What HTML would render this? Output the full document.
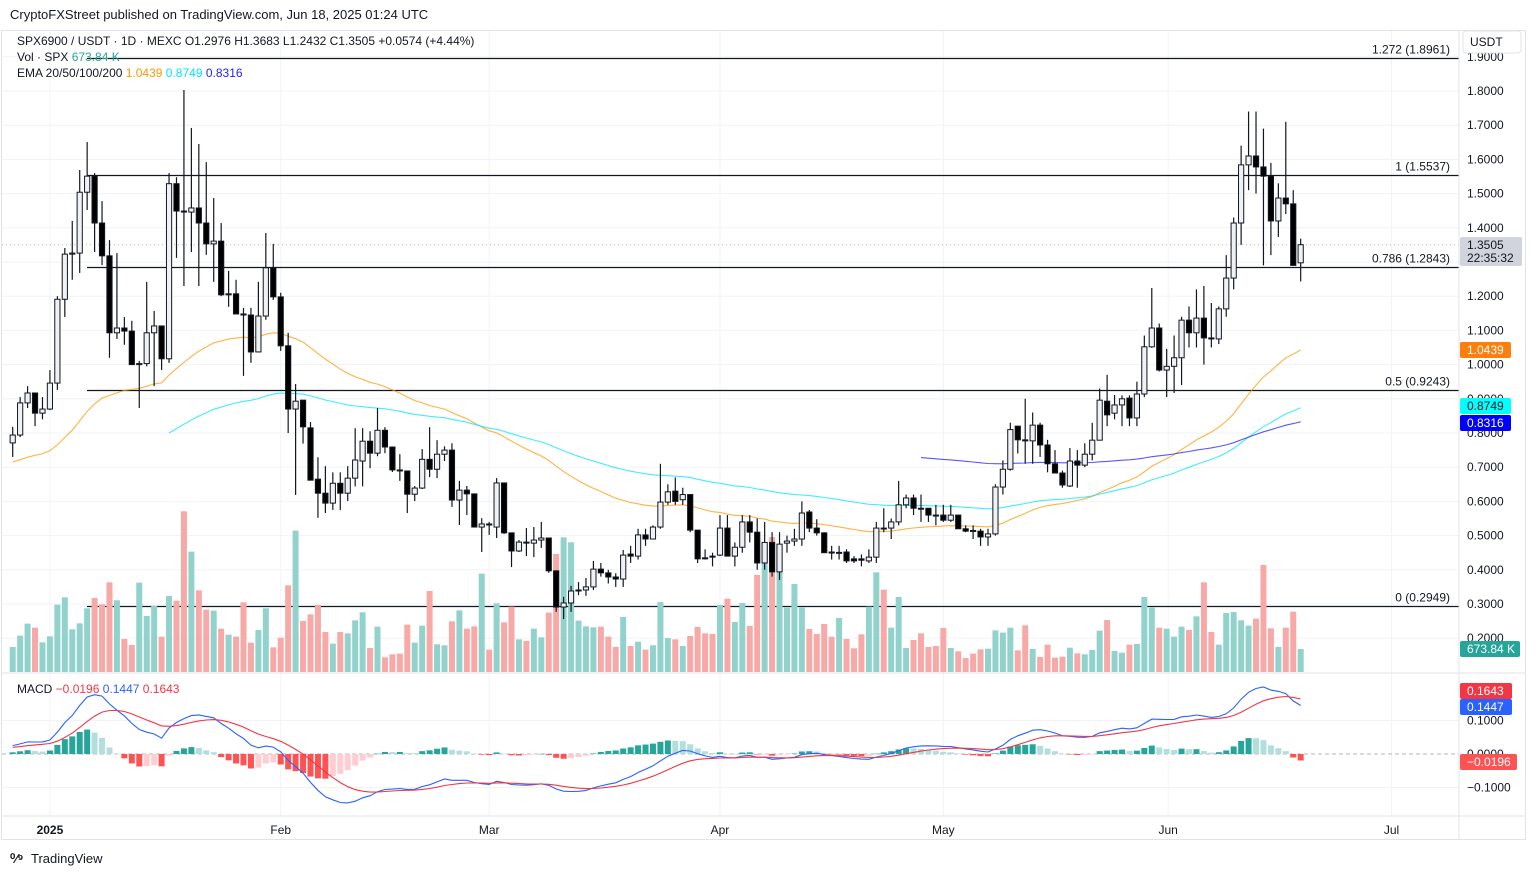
<!DOCTYPE html>
<html><head><meta charset="utf-8"><style>
html,body{margin:0;padding:0;background:#fff;}
svg{display:block;font-family:"Liberation Sans",Arial,sans-serif;}
</style></head><body>
<svg id="chart" width="1536" height="875" viewBox="0 0 1536 875" xmlns="http://www.w3.org/2000/svg">
<rect x="0" y="0" width="1536" height="875" fill="#ffffff"/>
<text x="10" y="19" font-size="13" fill="#131722">CryptoFXStreet published on TradingView.com, Jun 18, 2025 01:24 UTC</text>
<rect x="1.5" y="30.5" width="1524" height="809" fill="none" stroke="#e0e3eb"/>
<g id="grid"></g>
<g id="fib"></g>
<g id="vol"></g>
<g id="ema"></g>
<g id="candles"></g>
<g id="macd"></g>
<g id="axes"></g>
<g font-size="12" fill="#131722">
<text x="17" y="45">SPX6900 / USDT · 1D · MEXC  <tspan>O1.2976  H1.3683  L1.2432  C1.3505  +0.0574 (+4.44%)</tspan></text>
<text x="17" y="61">Vol · SPX  <tspan fill="#26a69a">673.84 K</tspan></text>
<text x="17" y="77">EMA 20/50/100/200  <tspan fill="#ff9800">1.0439</tspan>  <tspan fill="#00e5ff">0.8749</tspan>  <tspan fill="#1f1fff">0.8316</tspan></text>
<text x="17" y="693">MACD  <tspan fill="#f23645">−0.0196</tspan>  <tspan fill="#2962ff">0.1447</tspan>  <tspan fill="#f23645">0.1643</tspan></text>
</g>
<g>
<text x="10" y="863" font-size="13" font-weight="bold" fill="#131722">⁰⁄⁹</text>
<text x="31" y="863" font-size="13" fill="#131722">TradingView</text>
</g>
</svg>
<script>
const opens=[.771,.794,.888,.917,.858,.870,.946,1.191,1.323,1.326,1.504,1.551,1.414,1.318,1.093,1.107,1.098,1.000,1.003,1.093,1.113,1.017,1.529,1.449,1.446,1.458,1.414,1.353,1.361,1.204,1.207,1.148,1.145,1.037,1.142,1.283,1.198,1.055,.870,.896,.815,.665,.624,.595,.653,.624,.668,.718,.776,.741,.808,.759,.692,.689,.621,.639,.723,.694,.738,.750,.604,.633,.622,.525,.534,.525,.654,.508,.455,.481,.478,.487,.493,.397,.291,.303,.338,.341,.350,.402,.391,.379,.373,.446,.44,.502,.49,.525,.598,.63,.605,.62,.516,.435,.44,.443,.522,.44,.466,.54,.51,.42,.48,.394,.478,.484,.49,.569,.522,.508,.452,.449,.452,.432,.432,.426,.437,.522,.522,.54,.59,.61,.58,.58,.56,.56,.545,.56,.52,.515,.513,.496,.505,.642,.694,.82,.78,.777,.823,.765,.71,.683,.645,.718,.706,.738,.779,.893,.858,.882,.902,.844,.914,1.052,1.107,.984,.995,1.02,1.13,1.093,1.136,1.078,1.075,1.163,1.253,1.414,1.584,1.61,1.578,1.551,1.42,1.487,1.47,1.2976];
const highs=[.818,.905,.937,.917,.905,.984,1.200,1.341,1.420,1.569,1.651,1.560,1.478,1.364,1.326,1.139,1.128,1.011,1.242,1.157,1.113,1.560,1.548,1.803,1.692,1.645,1.592,1.487,1.414,1.274,1.248,1.166,1.166,1.242,1.385,1.353,1.210,1.093,.943,.896,.832,.729,.703,.685,.685,.703,.814,.814,.805,.873,.817,.759,.738,.689,.645,.753,.817,.779,.761,.770,.660,.645,.622,.551,.540,.668,.654,.508,.487,.522,.525,.540,.493,.397,.321,.353,.364,.376,.426,.42,.40,.39,.458,.47,.52,.52,.53,.71,.65,.67,.64,.62,.516,.46,.45,.56,.56,.48,.56,.56,.55,.54,.51,.51,.50,.52,.60,.575,.548,.51,.47,.47,.46,.44,.445,.46,.54,.58,.55,.66,.62,.62,.62,.58,.59,.59,.59,.56,.53,.53,.52,.52,.65,.72,.83,.82,.90,.86,.83,.78,.75,.69,.756,.75,.77,.83,.93,.97,.911,.91,.91,.95,1.085,1.224,1.12,1.046,1.085,1.14,1.17,1.22,1.23,1.18,1.17,1.32,1.43,1.64,1.74,1.74,1.69,1.59,1.53,1.71,1.51,1.3683];
const lows=[.730,.788,.873,.820,.840,.867,.926,1.139,1.248,1.268,1.452,1.329,1.291,1.020,1.075,1.058,1.000,.873,.995,.937,.984,1.005,1.312,1.230,1.329,1.230,1.321,1.242,1.200,1.169,1.148,.967,1.005,1.037,1.131,1.189,1.040,.800,.619,.769,.662,.552,.566,.575,.575,.601,.644,.644,.697,.732,.741,.686,.660,.566,.601,.636,.671,.668,.718,.584,.531,.560,.525,.452,.502,.493,.505,.408,.452,.440,.437,.464,.391,.277,.256,.277,.326,.324,.341,.38,.36,.35,.35,.42,.43,.47,.49,.52,.59,.59,.59,.51,.42,.43,.41,.44,.44,.41,.45,.48,.40,.40,.38,.37,.45,.47,.47,.51,.50,.45,.43,.43,.42,.42,.41,.42,.42,.51,.49,.53,.58,.56,.54,.54,.53,.54,.54,.52,.51,.49,.47,.47,.50,.62,.69,.74,.71,.71,.73,.685,.683,.64,.642,.64,.70,.72,.78,.82,.84,.82,.82,.82,.905,1.049,.98,.905,.917,.94,1.05,1.05,1.00,1.05,1.06,1.14,1.22,1.35,1.51,1.50,1.29,1.32,1.373,1.44,1.29,1.2432];
const closes=[.794,.888,.917,.858,.870,.946,1.191,1.323,1.326,1.504,1.551,1.414,1.318,1.093,1.107,1.098,1.000,1.003,1.093,1.113,1.017,1.529,1.449,1.446,1.458,1.414,1.353,1.361,1.204,1.207,1.148,1.145,1.037,1.142,1.283,1.198,1.055,.870,.893,.818,.662,.624,.595,.653,.624,.668,.721,.776,.741,.808,.759,.692,.689,.621,.639,.723,.694,.738,.750,.604,.633,.622,.525,.534,.531,.654,.508,.455,.481,.478,.487,.493,.397,.291,.303,.338,.341,.350,.402,.391,.379,.373,.443,.44,.502,.49,.525,.598,.628,.60,.62,.516,.432,.432,.437,.522,.44,.466,.54,.51,.42,.48,.394,.475,.484,.49,.566,.522,.508,.45,.449,.451,.426,.426,.428,.437,.522,.52,.54,.59,.61,.58,.578,.56,.558,.545,.56,.52,.513,.513,.496,.505,.642,.694,.81,.78,.777,.823,.765,.71,.683,.648,.718,.706,.738,.779,.896,.853,.882,.90,.844,.914,1.052,1.107,.984,.995,1.02,1.13,1.093,1.136,1.078,1.075,1.163,1.253,1.414,1.584,1.61,1.578,1.551,1.42,1.487,1.47,1.29,1.3505];
const volumesK=[733,1065,1417,1299,870,1045,1974,2188,1251,1426,1866,2169,1983,2628,2101,967,791,2618,1641,1934,1036,2228,2091,4709,3527,2394,1827,1798,1270,1094,1036,2042,860,1231,1866,723,1006,2540,4142,1495,1690,1964,1172,830,1172,1133,1514,1749,703,1329,430,518,537,1387,860,1358,2374,811,782,1485,1807,1270,1338,2882,655,2013,1456,1915,957,909,1270,1016,1739,3459,3947,3801,1505,1338,1309,1329,1036,733,1612,762,889,655,782,2052,997,957,762,1055,1319,1133,1114,1964,2149,1465,2022,1348,2843,3720,3955,3400,1886,2579,1886,1260,1114,1407,1036,1583,967,694,1104,1915,2921,2413,1299,2198,703,938,1133,733,762,1290,703,606,410,537,664,684,1221,1153,1299,635,1368,674,440,801,420,449,713,547,518,645,1211,1524,616,567,801,821,2198,1886,1299,1270,1036,1329,1231,1632,2628,1172,801,1729,1759,1514,1358,1563,3136,1280,733,1299,1768,673.84];
const fibRatios=["1.272","1","0.786","0.5","0"];
const fibPrices=[1.8961,1.5537,1.2843,0.9243,0.2949];
const priceTicks=[1.9,1.8,1.7,1.6,1.5,1.4,1.3,1.2,1.1,1.0,0.9,0.8,0.7,0.6,0.5,0.4,0.3,0.2];
const macdTicks=[0.1,0,-0.1];
const monthLabels=["2025","Feb","Mar","Apr","May","Jun","Jul"];
const monthIdx=[5,36,64,95,125,155.2,185.2];
const emaPeriods=[50,100,200];
const emaStarts=[0,21,122];
const emaSeeds=[0.715,0.80,0.728];
const emaColors=["#ff9800","#00e5ff","#1f1fff"];
const macdSeeds=[0.80,0.775,0.02];

const NS="http://www.w3.org/2000/svg";
const svg=document.getElementById('chart');
function mk(tag,attrs,parent){const e=document.createElementNS(NS,tag);for(const k in attrs)e.setAttribute(k,attrs[k]);(parent||svg).appendChild(e);return e;}
const X0=12.7,DX=7.445,PLOT_R=1459;
const xI=i=>X0+i*DX;
const yP=p=>604-(p-0.3)*342;
const yV=v=>672-v/29.3;
const yM=m=>754-m*335;
const G=id=>document.getElementById(id);

// grid
priceTicks.forEach(p=>{const l=mk('line',{x1:2,x2:PLOT_R,y1:yP(p),y2:yP(p),stroke:'#f2f3f7'},G('grid'));

});
macdTicks.forEach(m=>{if(m===0)return;const l=mk('line',{x1:2,x2:PLOT_R,y1:yM(m),y2:yM(m),stroke:'#f2f3f7'},G('grid'));

});
monthIdx.forEach(mi=>{const l=mk('line',{x1:xI(mi),x2:xI(mi),y1:31,y2:816,stroke:'#f2f3f7'},G('grid'));

});

// volume
volumesK.forEach((v,i)=>{const up=closes[i]>=opens[i];const r=mk('rect',{x:xI(i)-3,y:yV(v),width:6,height:672-yV(v),fill:up?'#92d2cc':'#f7a9a7'},G('vol'));

});

// fib
fibPrices.forEach((p,k)=>{const y=Math.round(yP(p))+0.5;
const l=mk('line',{x1:87,x2:PLOT_R,y1:y,y2:y,stroke:'#131722','stroke-width':1.2},G('fib'));


const t=mk('text',{x:1450,y:y-5,'text-anchor':'end','font-size':12,fill:'#131722'},G('fib'));
t.textContent=fibRatios[k]+' ('+p.toFixed(4)+')';

});

// EMA
function ema(period,start,seed){const a=2/(period+1);const out=[];let v=seed;for(let i=start;i<closes.length;i++){if(i>start)v=a*closes[i]+(1-a)*v;out.push([i,v]);}return out;}
emaPeriods.forEach((per,k)=>{const pts=ema(per,emaStarts[k],emaSeeds[k]);
const pl=mk('polyline',{points:pts.map(([i,v])=>xI(i).toFixed(1)+','+yP(v).toFixed(1)).join(' '),fill:'none',stroke:emaColors[k],'stroke-width':1.1,opacity:0.75},G('ema'));

});

// current price dotted line
const cp=mk('line',{x1:2,x2:PLOT_R,y1:yP(closes[closes.length-1]),y2:yP(closes[closes.length-1]),stroke:'#b2b5be','stroke-dasharray':'1 3'},G('ema'));



// candles
closes.forEach((c,i)=>{const o=opens[i],x=xI(i);const up=c>=o;
const w=mk('line',{x1:x,x2:x,y1:yP(highs[i]),y2:yP(lows[i]),stroke:'#131722','stroke-width':1.2},G('candles'));


const top=yP(Math.max(o,c)),bot=yP(Math.min(o,c));
const b=mk('rect',{x:x-2.6,y:top,width:5.2,height:Math.max(1,bot-top),fill:up?'#f0f1f4':'#000',stroke:'#131722','stroke-width':1},G('candles'));

});

// MACD
function emaArr(src,period,seed){const a=2/(period+1);let v=seed;return src.map((s,i)=>{if(i>0)v=a*s+(1-a)*v;return v;});}
const fast=emaArr(closes,12,macdSeeds[0]),slow=emaArr(closes,26,macdSeeds[1]);
const macdLine=fast.map((f,i)=>f-slow[i]);
const signal=emaArr(macdLine,9,macdSeeds[2]);
const hist=macdLine.map((m,i)=>m-signal[i]);
const z=mk('line',{x1:2,x2:PLOT_R,y1:yM(0),y2:yM(0),stroke:'#b2b5be','stroke-dasharray':'4 3'},G('macd'));


hist.forEach((h,i)=>{const prev=i>0?hist[i-1]:h;let col;
if(h>=0)col=h>=prev?'#26a69a':'#b2dfdb';else col=h<prev?'#ff5252':'#ffcdd2';
const y1=yM(Math.max(h,0)),y2=yM(Math.min(h,0));
const r=mk('rect',{x:xI(i)-3,y:y1,width:6,height:Math.max(0.5,y2-y1),fill:col},G('macd'));

});
const ml=mk('polyline',{points:macdLine.map((m,i)=>xI(i).toFixed(1)+','+yM(m).toFixed(1)).join(' '),fill:'none',stroke:'#2962ff','stroke-width':1.1},G('macd'));


const sl=mk('polyline',{points:signal.map((m,i)=>xI(i).toFixed(1)+','+yM(m).toFixed(1)).join(' '),fill:'none',stroke:'#f23645','stroke-width':1.1},G('macd'));



// axes separators
const AX=G('axes');
[[PLOT_R,31,PLOT_R,840],[2,673,1526,673],[2,816,1526,816]].forEach(a=>{const l=mk('line',{x1:a[0],y1:a[1],x2:a[2],y2:a[3],stroke:'#e0e3eb'},AX);

});
priceTicks.forEach(p=>{const t=mk('text',{x:1467,y:yP(p)+4,'font-size':12,fill:'#131722'},AX);t.textContent=p.toFixed(4);

});
macdTicks.forEach(m=>{const t=mk('text',{x:1467,y:yM(m)+4,'font-size':12,fill:'#131722'},AX);t.textContent=(m<0?'−':'')+Math.abs(m).toFixed(4);

});
monthLabels.forEach((s,k)=>{const t=mk('text',{x:xI(monthIdx[k]),y:834,'font-size':12,'text-anchor':'middle',fill:'#131722','font-weight':k===0?'bold':'normal'},AX);t.textContent=s;

});
// USDT box
const ub=mk('rect',{x:1463,y:31,width:58,height:22,rx:3,fill:'#fff',stroke:'#e0e3eb'},AX);


const ut=mk('text',{x:1470,y:46,'font-size':12,fill:'#131722'},AX);ut.textContent='USDT';


function badge(y,h,bg,fg,txt,name,txt2){const r=mk('rect',{x:1460,y:y,width:h.w,height:h.h,rx:2,fill:bg},AX);


const t=mk('text',{x:1467,y:y+12,'font-size':12,fill:fg},AX);t.textContent=txt;


if(txt2){const t2=mk('text',{x:1467,y:y+25,'font-size':12,fill:fg},AX);t2.textContent=txt2;

}}
badge(237,{w:62,h:29},'#d1d4dc','#131722','1.3505','last-price-badge','22:35:32');
badge(342,{w:51,h:16},'#ff7f0e','#fff','1.0439','ema50-badge');
badge(398,{w:51,h:16},'#00ffff','#131722','0.8749','ema100-badge');
badge(415,{w:51,h:16},'#0000ff','#fff','0.8316','ema200-badge');
badge(641,{w:60,h:16},'#26a69a','#fff','673.84 K','volume-badge');
badge(683,{w:52,h:16},'#f23645','#fff','0.1643','signal-badge');
badge(699,{w:52,h:16},'#2962ff','#fff','0.1447','macd-badge');
badge(754,{w:57,h:16},'#ff5252','#fff','−0.0196','histogram-badge');
</script>
</body></html>
